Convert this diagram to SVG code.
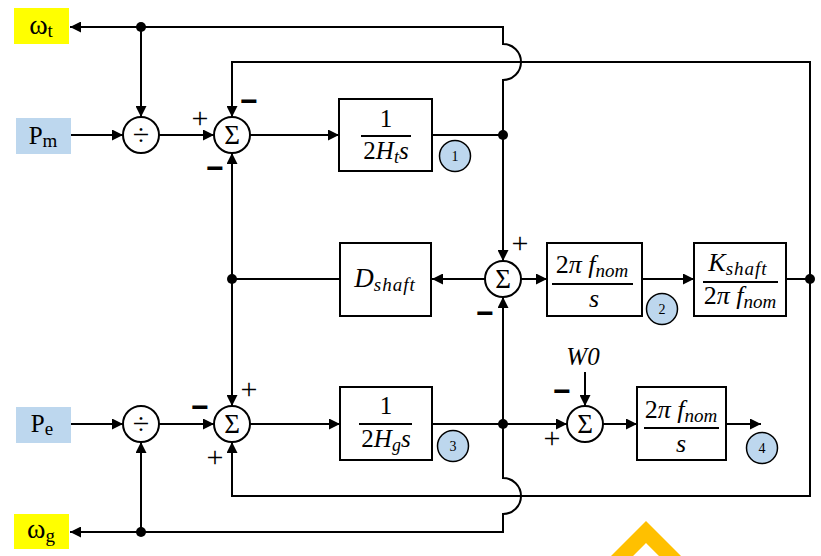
<svg xmlns="http://www.w3.org/2000/svg" width="821" height="556" viewBox="0 0 821 556">
<defs>
<marker id="arr" markerUnits="userSpaceOnUse" markerWidth="11" markerHeight="11" refX="11" refY="5.5" orient="auto"><path d="M0,0 L11,5.5 L0,11 z" fill="#000"/></marker>
<style>
.ln{fill:none;stroke:#000;stroke-width:2}
.ar{marker-end:url(#arr)}
.box{fill:#fff;stroke:#000;stroke-width:2}
.sum{fill:#fff;stroke:#000;stroke-width:2}
.dot{fill:#000}
.t{font-family:"Liberation Serif",serif;fill:#000}
.i{font-style:italic}
.bar{stroke:#000;stroke-width:2}
.num{fill:#BDD7EE;stroke:#000;stroke-width:1.5}
.plus{font-family:"Liberation Serif",serif;font-size:30px;fill:#000;text-anchor:middle}
.minus{font-family:"Liberation Sans",sans-serif;font-size:30px;font-weight:bold;fill:#000;text-anchor:middle}
</style>
</defs>
<rect width="821" height="556" fill="#fff"/>
<g id="connectors">
<path class="ln ar" d="M503,135 V80 A18,18 0 0,0 503,44 V27 H70"/>
<path class="ln ar" d="M141,27 V117"/>
<path class="ln ar" d="M71,135 H123"/>
<path class="ln ar" d="M159,135 H214"/>
<path class="ln ar" d="M250,135 H339"/>
<path class="ln" d="M432,135 H503"/>
<path class="ln ar" d="M503,135 V261"/>
<path class="ln ar" d="M810,279 V62 H232 V117"/>
<path class="ln" d="M786,279 H810"/>
<path class="ln ar" d="M810,279 V496 H232 V442"/>
<path class="ln ar" d="M521,279 H547"/>
<path class="ln ar" d="M642,279 H694"/>
<path class="ln ar" d="M485,279 H432"/>
<path class="ln" d="M340,279 H232"/>
<path class="ln ar" d="M232,279 V153"/>
<path class="ln ar" d="M232,279 V406"/>
<path class="ln ar" d="M71,424 H123"/>
<path class="ln ar" d="M159,424 H214"/>
<path class="ln ar" d="M141,532 V442"/>
<path class="ln ar" d="M250,424 H340"/>
<path class="ln ar" d="M432,424 H567"/>
<path class="ln ar" d="M503,424 V297"/>
<path class="ln ar" d="M503,424 V478 A18,18 0 0,1 503,514 V532 H70"/>
<path class="ln ar" d="M585,372 V406"/>
<path class="ln ar" d="M603,424 H637"/>
<path class="ln ar" d="M726,424 H761"/>
<circle class="dot" cx="141" cy="27" r="5"/>
<circle class="dot" cx="503" cy="135" r="5"/>
<circle class="dot" cx="810" cy="279" r="5"/>
<circle class="dot" cx="232" cy="279" r="5"/>
<circle class="dot" cx="503" cy="424" r="5"/>
<circle class="dot" cx="141" cy="532" r="5"/>
</g>
<g id="wt"><rect x="14" y="8" width="55" height="36" fill="#FFFF00"/><text class="t" x="41" y="34" font-size="28" text-anchor="middle">ω<tspan font-size="19" dy="3">t</tspan></text></g>
<g id="Pm"><rect x="16" y="118" width="55" height="36" fill="#BDD7EE"/><text class="t" x="43" y="144" font-size="25" text-anchor="middle">P<tspan font-size="19" dy="3">m</tspan></text></g>
<g id="Pe"><rect x="16" y="407" width="55" height="36" fill="#BDD7EE"/><text class="t" x="42" y="432" font-size="25" text-anchor="middle">P<tspan font-size="19" dy="3">e</tspan></text></g>
<g id="wg"><rect x="14" y="514" width="55" height="35" fill="#FFFF00"/><text class="t" x="41" y="538" font-size="28" text-anchor="middle">ω<tspan font-size="19" dy="4">g</tspan></text></g>
<g id="div1"><circle class="sum" cx="141" cy="135" r="18"/><text class="t" x="141" y="145" font-size="30" text-anchor="middle">÷</text></g>
<g id="div2"><circle class="sum" cx="141" cy="424" r="18"/><text class="t" x="141" y="434" font-size="30" text-anchor="middle">÷</text></g>
<g id="sum1"><circle class="sum" cx="232" cy="135" r="18"/><text class="t" x="232" y="144" font-size="27" text-anchor="middle">Σ</text>
<text class="plus" x="200" y="128">+</text><text class="minus" x="249" y="111">−</text><text class="minus" x="215" y="178">−</text></g>
<g id="sum2"><circle class="sum" cx="503" cy="279" r="18"/><text class="t" x="503" y="288" font-size="27" text-anchor="middle">Σ</text>
<text class="plus" x="520" y="253">+</text><text class="minus" x="485" y="323">−</text></g>
<g id="sum3"><circle class="sum" cx="232" cy="424" r="18"/><text class="t" x="232" y="433" font-size="27" text-anchor="middle">Σ</text>
<text class="minus" x="200" y="417">−</text><text class="plus" x="249" y="399">+</text><text class="plus" x="215" y="467">+</text></g>
<g id="sum4"><circle class="sum" cx="585" cy="424" r="18"/><text class="t" x="585" y="433" font-size="27" text-anchor="middle">Σ</text>
<text class="minus" x="562" y="401">−</text><text class="plus" x="552" y="448">+</text>
<text class="t i" x="583" y="365" font-size="25" text-anchor="middle">W0</text></g>
<g id="box1"><rect class="box" x="339" y="99" width="93" height="72"/>
<text class="t" x="386" y="127" font-size="25" text-anchor="middle">1</text>
<line class="bar" x1="361" y1="136" x2="411" y2="136"/>
<text class="t" x="386" y="159" font-size="25" text-anchor="middle">2<tspan class="i">H</tspan><tspan class="i" font-size="18" dy="4">t</tspan><tspan class="i" dy="-4">s</tspan></text></g>
<g id="n1"><circle class="num" cx="455" cy="156" r="15.5"/><text class="t" x="455" y="161" font-size="14" text-anchor="middle">1</text></g>
<g id="dshaft"><rect class="box" x="340" y="243" width="91" height="73"/>
<text class="t i" x="385" y="287" font-size="27" text-anchor="middle">D<tspan font-size="19" dy="4" letter-spacing="1">shaft</tspan></text></g>
<g id="box2"><rect class="box" x="547" y="243" width="95" height="73"/>
<text class="t" x="592" y="273" font-size="26" text-anchor="middle">2<tspan class="i">π f</tspan><tspan class="i" font-size="19" dy="4">nom</tspan></text>
<line class="bar" x1="552" y1="284" x2="633" y2="284"/>
<text class="t i" x="594" y="307" font-size="26" text-anchor="middle">s</text></g>
<g id="n2"><circle class="num" cx="662" cy="309" r="15.5"/><text class="t" x="662" y="314" font-size="14" text-anchor="middle">2</text></g>
<g id="kshaft"><rect class="box" x="694" y="243" width="92" height="73"/>
<text class="t i" x="738" y="271" font-size="26" text-anchor="middle">K<tspan font-size="19" dy="4" letter-spacing="1">shaft</tspan></text>
<line class="bar" x1="703" y1="282" x2="778" y2="282"/>
<text class="t" x="740" y="304" font-size="26" text-anchor="middle">2<tspan class="i">π f</tspan><tspan class="i" font-size="19" dy="4">nom</tspan></text></g>
<g id="box3"><rect class="box" x="340" y="387" width="92" height="73"/>
<text class="t" x="386" y="414" font-size="25" text-anchor="middle">1</text>
<line class="bar" x1="359" y1="424" x2="412" y2="424"/>
<text class="t" x="386" y="447" font-size="25" text-anchor="middle">2<tspan class="i">H</tspan><tspan class="i" font-size="18" dy="4">g</tspan><tspan class="i" dy="-4">s</tspan></text></g>
<g id="n3"><circle class="num" cx="453" cy="446" r="15.5"/><text class="t" x="453" y="451" font-size="14" text-anchor="middle">3</text></g>
<g id="box4"><rect class="box" x="637" y="387" width="89" height="73"/>
<text class="t" x="681" y="418" font-size="26" text-anchor="middle">2<tspan class="i">π f</tspan><tspan class="i" font-size="19" dy="4">nom</tspan></text>
<line class="bar" x1="644" y1="428" x2="719" y2="428"/>
<text class="t i" x="681" y="452" font-size="26" text-anchor="middle">s</text></g>
<g id="n4"><circle class="num" cx="762" cy="448" r="15.5"/><text class="t" x="762" y="453" font-size="14" text-anchor="middle">4</text></g>
<polygon points="611,556 646,521 681,556 659,556 646,543 633,556" fill="#FFC000"/>
</svg>
